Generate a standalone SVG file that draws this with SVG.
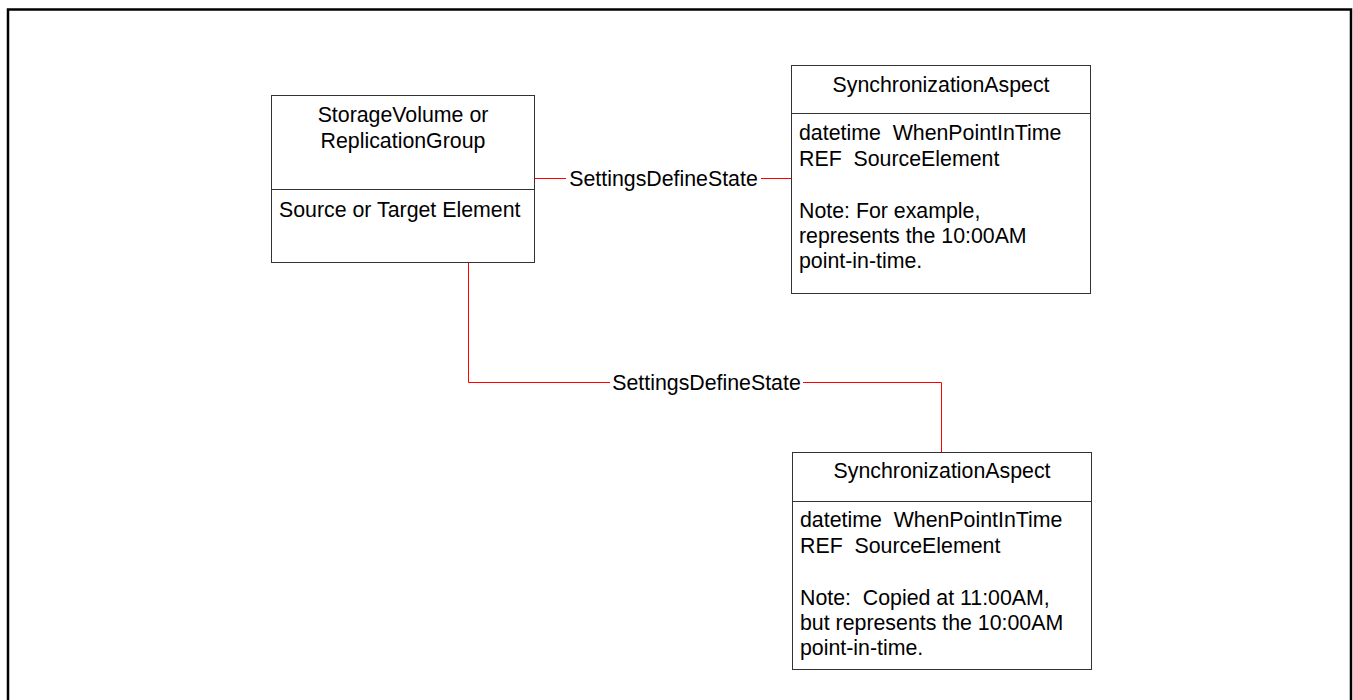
<svg xmlns="http://www.w3.org/2000/svg" width="1353" height="700" viewBox="0 0 1353 700">
<style>
.box{fill:#fff;stroke:#333;stroke-width:1}
.div{stroke:#333;stroke-width:1}
.t{font-family:"Liberation Sans",Arial,sans-serif;font-size:21.33px;fill:#000;white-space:pre}
.c{text-anchor:middle}
.conn{fill:none;stroke:#f00;stroke-width:1}
.lbl{font-family:"Liberation Sans",Arial,sans-serif;font-size:21.33px;fill:#000;text-anchor:middle}
</style>
<rect x="0" y="0" width="1353" height="700" fill="#fff"/>
<rect x="8" y="9.5" width="1343" height="700" fill="none" stroke="#000" stroke-width="2.5"/>
<g id="connectors">
<path class="conn" d="M534.5,178.5 H791.5"/>
<rect x="566" y="166" width="195" height="24" fill="#fff"/>
<text class="lbl" x="663.5" y="186">SettingsDefineState</text>
<path class="conn" d="M468.5,262 V382.5 H941.5 V452"/>
<rect x="610" y="370" width="193" height="24" fill="#fff"/>
<text class="lbl" x="706.5" y="390">SettingsDefineState</text>
</g>
<g id="storage">
<rect class="box" x="271.5" y="95.5" width="263" height="167"/>
<line class="div" x1="271.5" y1="189.5" x2="534.5" y2="189.5"/>
<text class="t c" x="403" y="122">StorageVolume or</text>
<text class="t c" x="403" y="148">ReplicationGroup</text>
<text class="t" x="279" y="217">Source or Target Element</text>
</g>
<g id="sync1">
<rect class="box" x="791.5" y="65.5" width="299" height="228"/>
<line class="div" x1="791.5" y1="113.5" x2="1090.5" y2="113.5"/>
<text class="t c" x="941" y="92">SynchronizationAspect</text>
<text class="t" x="799" y="140" xml:space="preserve">datetime  WhenPointInTime</text>
<text class="t" x="799" y="166" xml:space="preserve">REF  SourceElement</text>
<text class="t" x="799" y="218">Note: For example,</text>
<text class="t" x="799" y="243">represents the 10:00AM</text>
<text class="t" x="799" y="268">point-in-time.</text>
</g>
<g id="sync2">
<rect class="box" x="792.5" y="452.5" width="299" height="217"/>
<line class="div" x1="792.5" y1="501.5" x2="1091.5" y2="501.5"/>
<text class="t c" x="942" y="478">SynchronizationAspect</text>
<text class="t" x="800" y="527" xml:space="preserve">datetime  WhenPointInTime</text>
<text class="t" x="800" y="553" xml:space="preserve">REF  SourceElement</text>
<text class="t" x="800" y="605" xml:space="preserve">Note:  Copied at 11:00AM,</text>
<text class="t" x="800" y="630">but represents the 10:00AM</text>
<text class="t" x="800" y="655">point-in-time.</text>
</g>
</svg>
